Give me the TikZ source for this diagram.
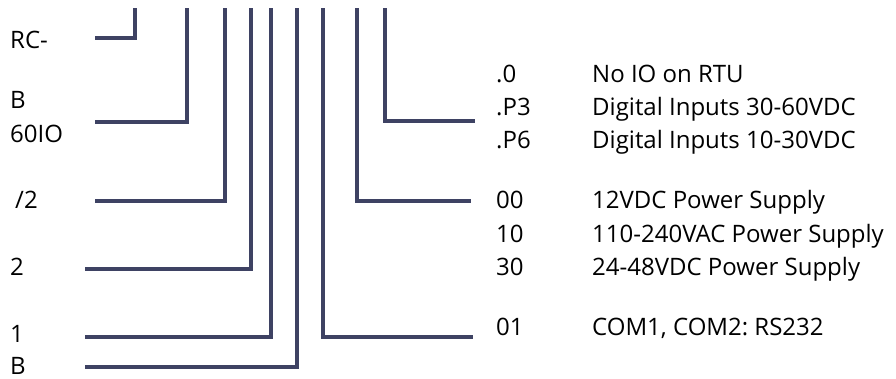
\documentclass[tikz,border=0pt]{standalone}
\usepackage{fontspec}
\setmainfont{Open Sans}
\definecolor{wirecol}{RGB}{62,66,99}
\frenchspacing
\begin{document}
\begin{tikzpicture}[x=1pt,y=-1pt,
  wire/.style={draw=wirecol, line width=3.6pt, line join=miter, line cap=butt},
  lbl/.style={anchor=base west, inner sep=0pt, text=black, font=\fontsize{24}{28}\selectfont}]
\useasboundingbox (0,0) rectangle (896,378);
% left labels
\node[lbl] (rc)  at (10,48)  {RC-};
\node[lbl] (b1)  at (10,108) {B};
\node[lbl] (io)  at (10,142) {60IO};
\node[lbl] (sl)  at (15,208) {/2};
\node[lbl] (two) at (10,275) {2};
\node[lbl] (one) at (10,342) {1};
\node[lbl] (b2)  at (10,374.5) {B};
% right codes
\node[lbl] (c0)  at (496,82)  {.0};
\node[lbl] (cp3) at (496,115) {.P3};
\node[lbl] (cp6) at (496,148) {.P6};
\node[lbl] (c00) at (496,208) {00};
\node[lbl] (c10) at (496,242) {10};
\node[lbl] (c30) at (496,275) {30};
\node[lbl] (c01) at (496,335) {01};
% descriptions
\node[lbl] (d0)  at (592,82)  {No IO on RTU};
\node[lbl] (dp3) at (592,115) {Digital Inputs 30-60VDC};
\node[lbl] (dp6) at (592,148) {Digital Inputs 10-30VDC};
\node[lbl] (d00) at (592,208) {12VDC Power Supply};
\node[lbl] (d10) at (592,242) {110-240VAC Power Supply};
\node[lbl] (d30) at (592,275) {24-48VDC Power Supply};
\node[lbl] (d01) at (592,335) {COM1, COM2: RS232};
% connector tops and ends
\coordinate (t1) at (135,8);   \coordinate (e1) at (95,37.7);
\coordinate (t2) at (186.7,8); \coordinate (e2) at (95,121.7);
\coordinate (t3) at (225,8);   \coordinate (e3) at (95,200.7);
\coordinate (t4) at (250.7,8); \coordinate (e4) at (85,269);
\coordinate (t5) at (270.7,8); \coordinate (e5) at (85,336.7);
\coordinate (t6) at (296.7,8); \coordinate (e6) at (85,366.7);
\coordinate (t7) at (322.7,8); \coordinate (e7) at (473.3,336.7);
\coordinate (t8) at (356.7,8); \coordinate (e8) at (470.7,200.7);
\coordinate (t9) at (385,8);   \coordinate (e9) at (475,120.7);
\foreach \i in {1,...,9} {\draw[wire] (t\i) |- (e\i);}
\end{tikzpicture}
\end{document}
